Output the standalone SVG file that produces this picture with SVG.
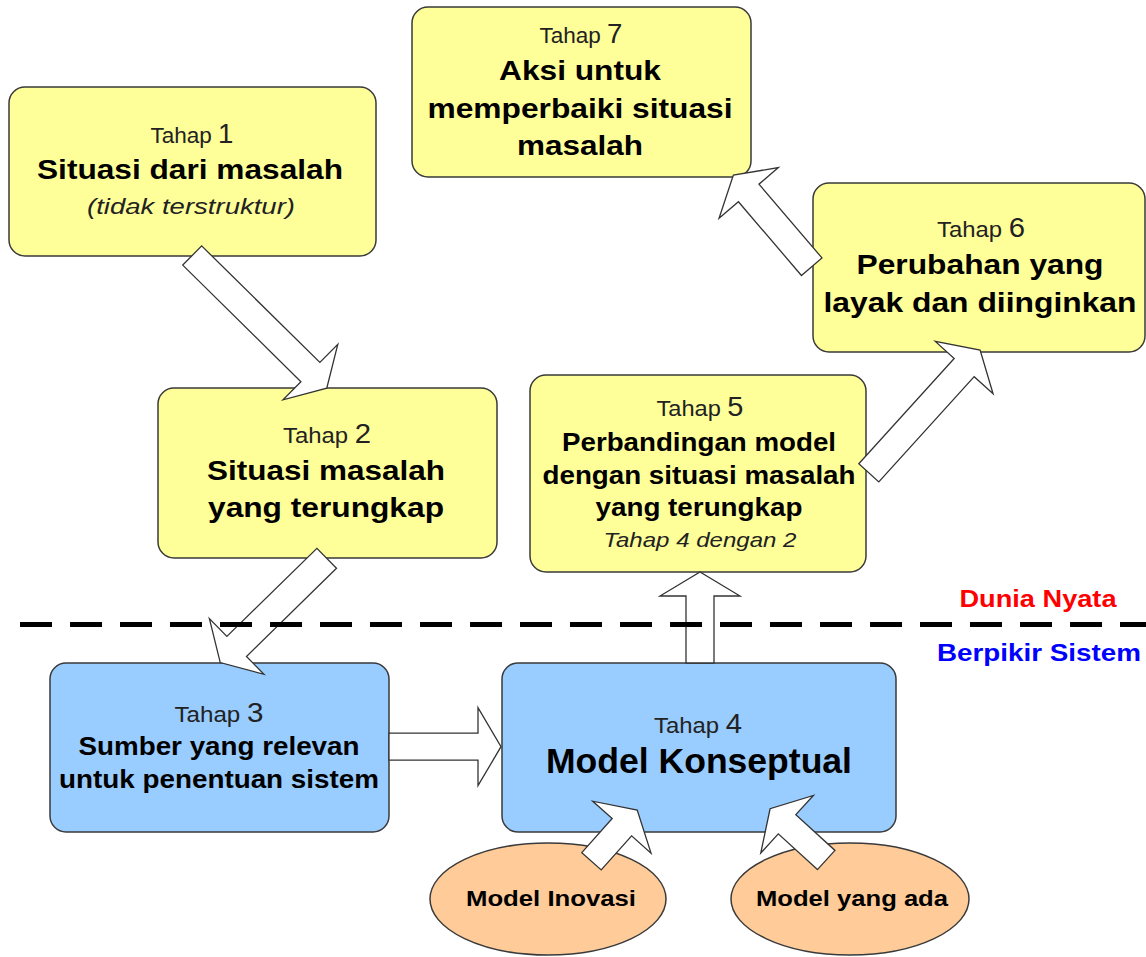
<svg xmlns="http://www.w3.org/2000/svg" width="1146" height="957" viewBox="0 0 1146 957">
<style>
.y{fill:#FFFF99;stroke:#3a3a3a;stroke-width:1.5}
.b{fill:#99CCFF;stroke:#3a3a3a;stroke-width:1.5}
.o{fill:#FFCC99;stroke:#3a3a3a;stroke-width:1.5}
.arr{fill:#ffffff;stroke:#333333;stroke-width:1.3;stroke-linejoin:miter}
text{font-family:"Liberation Sans",Arial,sans-serif;text-anchor:middle;fill:#000}
.t{font-size:22px;fill:#222}
.t tspan{font-size:27px}
.h{font-size:28.5px;font-weight:bold}
.m{font-size:25px;font-weight:bold}
.i{font-size:22px;font-style:italic;fill:#222}
.e{font-size:22px;font-weight:bold}
</style>
<rect width="1146" height="957" fill="#ffffff"/>

<g id="tahap1">
<rect class="y" x="9" y="87" width="367" height="169" rx="16"/>
<text class="t" x="192" y="143" textLength="83" lengthAdjust="spacingAndGlyphs">Tahap <tspan>1</tspan></text>
<text class="h" x="190" y="179" textLength="306" lengthAdjust="spacingAndGlyphs">Situasi dari masalah</text>
<text class="i" x="191" y="214" textLength="208" lengthAdjust="spacingAndGlyphs">(tidak terstruktur)</text>
</g>

<g id="tahap7">
<rect class="y" x="412" y="7" width="339" height="170" rx="16"/>
<text class="t" x="581" y="43" textLength="83" lengthAdjust="spacingAndGlyphs">Tahap <tspan>7</tspan></text>
<text class="h" x="580" y="80" textLength="162" lengthAdjust="spacingAndGlyphs">Aksi untuk</text>
<text class="h" x="580" y="118" textLength="305" lengthAdjust="spacingAndGlyphs">memperbaiki situasi</text>
<text class="h" x="580" y="155" textLength="126" lengthAdjust="spacingAndGlyphs">masalah</text>
</g>

<g id="tahap6">
<rect class="y" x="813" y="183" width="332" height="169" rx="16"/>
<text class="t" x="981" y="237" textLength="88" lengthAdjust="spacingAndGlyphs">Tahap <tspan>6</tspan></text>
<text class="h" x="980" y="274" textLength="247" lengthAdjust="spacingAndGlyphs">Perubahan yang</text>
<text class="h" x="980" y="312" textLength="313" lengthAdjust="spacingAndGlyphs">layak dan diinginkan</text>
</g>

<g id="tahap2">
<rect class="y" x="158" y="388" width="339" height="170" rx="16"/>
<text class="t" x="327" y="443" textLength="88" lengthAdjust="spacingAndGlyphs">Tahap <tspan>2</tspan></text>
<text class="h" x="326" y="480" textLength="238" lengthAdjust="spacingAndGlyphs">Situasi masalah</text>
<text class="h" x="326" y="517" textLength="236" lengthAdjust="spacingAndGlyphs">yang terungkap</text>
</g>

<g id="tahap5">
<rect class="y" x="530" y="375" width="336" height="197" rx="16"/>
<text class="t" x="700" y="416" textLength="87" lengthAdjust="spacingAndGlyphs">Tahap <tspan>5</tspan></text>
<text class="m" x="699" y="451" textLength="274" lengthAdjust="spacingAndGlyphs">Perbandingan model</text>
<text class="m" x="699" y="484" textLength="313" lengthAdjust="spacingAndGlyphs">dengan situasi masalah</text>
<text class="m" x="699" y="516" textLength="207" lengthAdjust="spacingAndGlyphs">yang terungkap</text>
<text class="i" x="700" y="547" style="font-size:21px" textLength="193" lengthAdjust="spacingAndGlyphs">Tahap 4 dengan 2</text>
</g>

<g id="tahap3">
<rect class="b" x="50" y="663" width="339" height="169" rx="16"/>
<text class="t" x="219" y="722" textLength="89" lengthAdjust="spacingAndGlyphs">Tahap <tspan>3</tspan></text>
<text class="m" x="219" y="755" textLength="281" lengthAdjust="spacingAndGlyphs">Sumber yang relevan</text>
<text class="m" x="219" y="788" textLength="320" lengthAdjust="spacingAndGlyphs">untuk penentuan sistem</text>
</g>

<g id="tahap4">
<rect class="b" x="502" y="663" width="394" height="169" rx="16"/>
<text class="t" x="698" y="733" textLength="88" lengthAdjust="spacingAndGlyphs">Tahap <tspan>4</tspan></text>
<text x="699" y="773" style="font-size:35px;font-weight:bold" textLength="306" lengthAdjust="spacingAndGlyphs">Model Konseptual</text>
</g>

<g id="model-inovasi">
<ellipse class="o" cx="548" cy="899" rx="118" ry="56"/>
<text class="e" x="551" y="906" textLength="170" lengthAdjust="spacingAndGlyphs">Model Inovasi</text>
</g>

<g id="model-yang-ada">
<ellipse class="o" cx="850" cy="899" rx="119" ry="56"/>
<text class="e" x="852" y="906" textLength="192" lengthAdjust="spacingAndGlyphs">Model yang ada</text>
</g>

<g id="connectors">
<polygon class="arr" transform="translate(192.2,255.5) rotate(44.6)" points="0,-13.5 166,-13.5 166,-39 189,0 166,39 166,13.5 0,13.5"/>
<polygon class="arr" transform="translate(326.7,558.3) rotate(135.6)" points="0,-14 126,-14 126,-39 149,0 126,39 126,14 0,14"/>
<polygon class="arr" transform="translate(389,746.7) rotate(0)" points="0,-13.5 89,-13.5 89,-39 112,0 89,39 89,13.5 0,13.5"/>
<polygon class="arr" transform="translate(700,663) rotate(-90)" points="0,-14 67,-14 67,-40 91,0 67,40 67,14 0,14"/>
<polygon class="arr" transform="translate(868.8,472.8) rotate(-47.8)" points="0,-13.5 142,-13.5 142,-39 165.7,0 142,39 142,13.5 0,13.5"/>
<polygon class="arr" transform="translate(811.7,266.7) rotate(-130.5)" points="0,-13.5 97,-13.5 97,-39 120.6,0 97,39 97,13.5 0,13.5"/>
<polygon class="arr" transform="translate(591.5,861.3) rotate(-48.3)" points="0,-13 45.7,-13 45.7,-39 68.7,0 45.7,39 45.7,13 0,13"/>
<polygon class="arr" transform="translate(826.2,860) rotate(-137.6)" points="0,-13 53,-13 53,-39 76,0 53,39 53,13 0,13"/>
</g>

<g id="boundary">
<line x1="20" y1="624.5" x2="1146" y2="624.5" stroke="#000" stroke-width="5" stroke-dasharray="32,18"/>
<text x="1038" y="607" style="font-size:24px;font-weight:bold;fill:#FF0000" textLength="157" lengthAdjust="spacingAndGlyphs">Dunia Nyata</text>
<text x="1039" y="661" style="font-size:24px;font-weight:bold;fill:#0000FF" textLength="204" lengthAdjust="spacingAndGlyphs">Berpikir Sistem</text>
</g>
</svg>
